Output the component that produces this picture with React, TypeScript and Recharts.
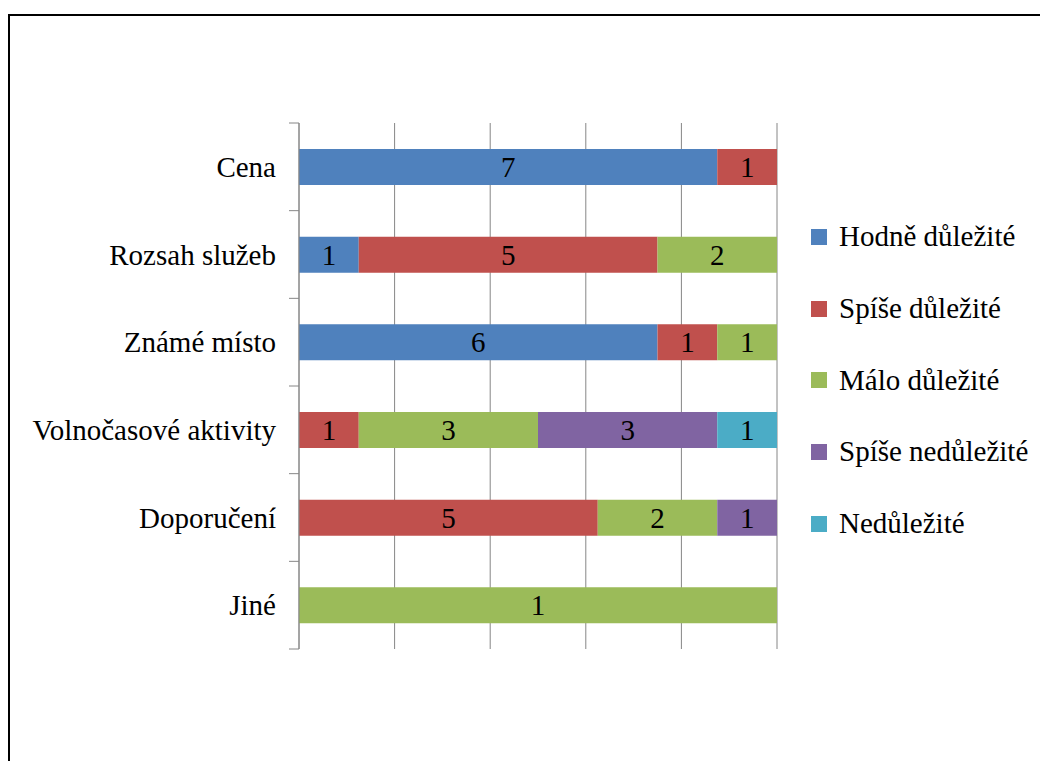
import React from "react";
import { BarChart, Bar, XAxis, YAxis, CartesianGrid, Legend, LabelList } from "recharts";

// Categories (top to bottom) and answer counts per importance level
const categories = ["Cena", "Rozsah služeb", "Známé místo", "Volnočasové aktivity", "Doporučení", "Jiné"];
const hodneDulezite = [7, 1, 6, 0, 0, 0];
const spiseDulezite = [1, 5, 1, 1, 5, 0];
const maloDulezite = [0, 2, 1, 3, 2, 1];
const spiseNedulezite = [0, 0, 0, 3, 1, 0];
const nedulezite = [0, 0, 0, 1, 0, 0];

const seriesNames = ["Hodně důležité", "Spíše důležité", "Málo důležité", "Spíše nedůležité", "Nedůležité"];
const seriesKeys = ["hodne", "spise", "malo", "spiseNe", "ne"];
const seriesColors = ["#4F81BD", "#C0504D", "#9BBB59", "#8064A2", "#4BACC6"];
const xTicks = [0, 0.2, 0.4, 0.6, 0.8, 1];

const data = categories.map((name, i) => ({
  name,
  hodne: hodneDulezite[i],
  spise: spiseDulezite[i],
  malo: maloDulezite[i],
  spiseNe: spiseNedulezite[i],
  ne: nedulezite[i],
}));

const FONT = "'Liberation Serif', 'Times New Roman', Tinos, serif";
const FONT_SIZE = 29;
const AXIS_GRAY = "#868686";

const CHART_W = 1030;
const CHART_H = 740;
const MARGIN = { top: 107, right: 23, bottom: 107, left: 0 };
const Y_AXIS_W = 289;
const LEGEND_W = 240;
const PLOT_LEFT = MARGIN.left + Y_AXIS_W;
const PLOT_H = CHART_H - MARGIN.top - MARGIN.bottom;
const BAND = PLOT_H / categories.length;

// Category label at the band centre, tick marks at the band boundaries
const CategoryTick = (props: any) => {
  const { y, payload, index } = props;
  const top = y - BAND / 2;
  const bottom = y + BAND / 2;
  return (
    <g>
      <line x1={PLOT_LEFT - 10} x2={PLOT_LEFT} y1={top} y2={top} stroke={AXIS_GRAY} strokeWidth={1} />
      {index === categories.length - 1 && (
        <line x1={PLOT_LEFT - 10} x2={PLOT_LEFT} y1={bottom} y2={bottom} stroke={AXIS_GRAY} strokeWidth={1} />
      )}
      <text
        className="serif-text"
        x={PLOT_LEFT - 23}
        y={y}
        textAnchor="end"
        dominantBaseline="central"
        fontSize={FONT_SIZE}
        fill="#000"
      >
        {payload.value}
      </text>
    </g>
  );
};

// Raw count centred in each stacked segment; empty segments get no label
const SegmentLabel = (props: any) => {
  const { x, y, width, height, value } = props;
  if (value === null || value === undefined || Number(value) === 0) return null;
  return (
    <text
      className="serif-text"
      x={Number(x) + Number(width) / 2}
      y={Number(y) + Number(height) / 2}
      textAnchor="middle"
      dominantBaseline="central"
      fontSize={FONT_SIZE}
      fill="#000"
    >
      {value}
    </text>
  );
};

const LegendContent = (props: any) => {
  const items = [...((props.payload || []) as any[])].sort(
    (a, b) => seriesNames.indexOf(a.value) - seriesNames.indexOf(b.value)
  );
  return (
    <div className="serif-text" style={{ width: LEGEND_W }}>
      {items.map((item) => (
        <div
          key={item.value}
          className="serif-text"
          style={{ height: 71.7, display: "flex", alignItems: "center", fontSize: FONT_SIZE, color: "#000", whiteSpace: "nowrap" }}
        >
          <span style={{ display: "inline-block", width: 16, height: 16, background: item.color, marginRight: 12 }} />
          <span className="serif-text">{item.value}</span>
        </div>
      ))}
    </div>
  );
};

export default function App() {
  return (
    <div className="chart-page" style={{ width: 1040, height: 753, overflow: "hidden", paddingTop: 6, boxSizing: "border-box" }}>
      <style>{`.chart-page, .chart-page *, .serif-text { font-family: ${FONT} !important; }`}</style>
      <div style={{ width: 1040, height: 760, borderTop: "2px solid #000", borderLeft: "2px solid #000" }}>
        <BarChart
          width={CHART_W}
          height={CHART_H}
          data={data}
          layout="vertical"
          stackOffset="expand"
          margin={MARGIN}
          barSize={36}
        >
          <CartesianGrid horizontal={false} stroke={AXIS_GRAY} strokeWidth={1} />
          <XAxis type="number" domain={[0, 1]} ticks={xTicks} hide />
          <YAxis
            type="category"
            dataKey="name"
            width={Y_AXIS_W}
            axisLine={{ stroke: AXIS_GRAY, strokeWidth: 1 }}
            tickLine={false}
            tick={<CategoryTick />}
            interval={0}
          />
          <Legend
            layout="vertical"
            align="right"
            verticalAlign="middle"
            itemSorter={null as any}
            content={<LegendContent />}
            wrapperStyle={{ width: LEGEND_W, left: 801, top: 185 }}
          />
          {seriesKeys.map((key, i) => (
            <Bar key={key} dataKey={key} name={seriesNames[i]} stackId="a" fill={seriesColors[i]} isAnimationActive={false}>
              <LabelList dataKey={key} content={<SegmentLabel />} />
            </Bar>
          ))}
        </BarChart>
      </div>
    </div>
  );
}
